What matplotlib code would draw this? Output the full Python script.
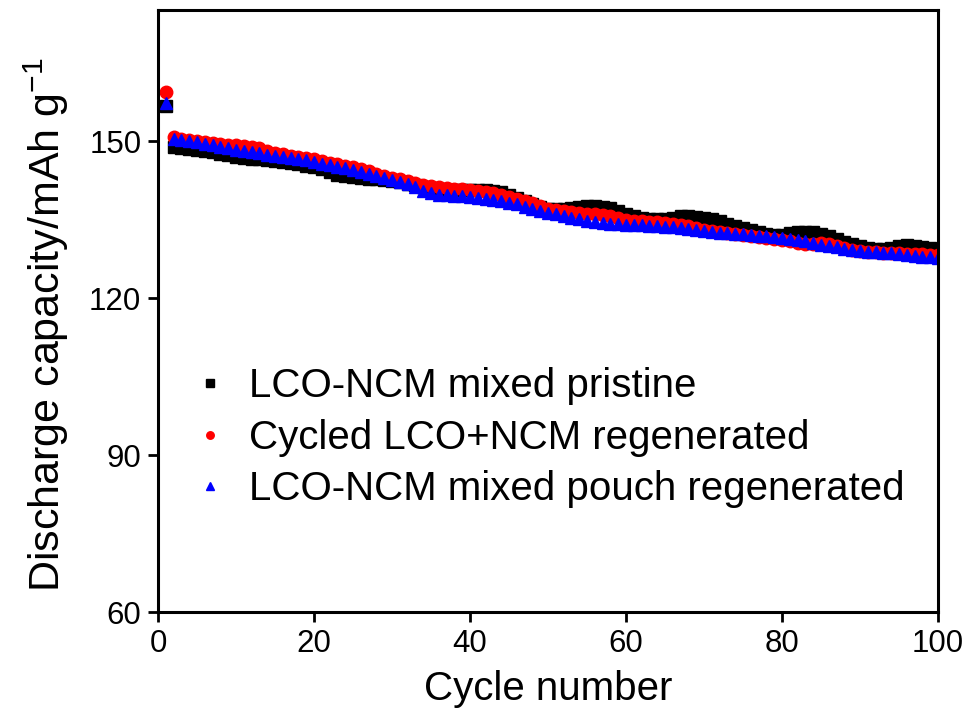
import matplotlib
matplotlib.use('Agg')
import matplotlib.pyplot as plt

plt.rcParams['font.family'] = ['Liberation Sans', 'DejaVu Sans']
plt.rcParams['mathtext.fontset'] = 'custom'
plt.rcParams['mathtext.rm'] = 'Liberation Sans'
plt.rcParams['mathtext.it'] = 'Liberation Sans'

cycles = list(range(1, 101))

pristine = [
    156.8,
    148.8, 148.6, 148.5, 148.3, 148.1, 147.9, 147.6, 147.3, 147.0,
    146.8, 146.6, 146.5, 146.3, 146.2, 146.0, 145.8, 145.6, 145.3, 145.0,
    144.6, 144.1, 143.6, 143.3, 143.1, 143.0, 142.8, 142.7, 142.5, 142.3,
    142.1, 141.9, 141.6, 141.3, 141.0, 140.8, 140.7, 140.7, 140.6, 140.6,
    140.7, 140.6, 140.5, 140.2, 139.8, 139.2, 138.6, 138.0, 137.5, 137.1,
    137.0, 137.1, 137.3, 137.5, 137.6, 137.6, 137.5, 137.3, 136.7, 136.1,
    135.6, 135.3, 135.2, 135.1, 135.1, 135.4, 135.6, 135.6, 135.5, 135.4,
    135.1, 134.7, 134.2, 133.8, 133.4, 133.0, 132.6, 132.3, 132.1, 132.1,
    132.4, 132.6, 132.7, 132.6, 132.3, 131.8, 131.3, 130.8, 130.4, 130.0,
    129.6, 129.3, 129.3, 129.6, 130.0, 130.1, 130.0, 129.8, 129.6, 129.4,
]

cycled_regen = [
    159.3,
    150.7, 150.5, 150.3, 150.0, 149.8, 149.6, 149.4, 149.3, 149.2,
    149.0, 148.9, 148.6, 148.2, 147.8, 147.5, 147.2, 147.0, 146.8, 146.5,
    146.2, 145.9, 145.6, 145.3, 145.0, 144.6, 144.2, 143.8, 143.4, 143.0,
    142.7, 142.4, 142.0, 141.7, 141.4, 141.2, 141.0, 140.9, 140.8, 140.7,
    140.5, 140.3, 140.0, 139.7, 139.4, 139.0, 138.6, 138.1, 137.6, 137.1,
    136.8, 136.6, 136.5, 136.3, 136.1, 136.0, 135.8, 135.6, 135.3, 135.0,
    134.8, 134.7, 134.6, 134.5, 134.4, 134.2, 134.0, 133.7, 133.4, 133.1,
    132.9, 132.7, 132.5, 132.2, 132.0, 131.8, 131.7, 131.5, 131.3, 131.2,
    131.0, 130.6, 130.4, 130.4, 130.5, 130.3, 129.9, 129.5, 129.2, 129.0,
    128.9, 128.8, 128.7, 128.7, 128.6, 128.5, 128.5, 128.4, 128.3, 128.2,
]

pouch_regen = [
    157.3,
    150.4, 150.2, 150.0, 149.8, 149.5, 149.2, 148.9, 148.6, 148.3,
    148.1, 147.9, 147.7, 147.4, 147.2, 147.0, 146.8, 146.5, 146.3, 146.0,
    145.7, 145.4, 145.1, 144.8, 144.5, 144.1, 143.7, 143.3, 143.0, 142.6,
    142.2, 141.8, 141.2, 140.5, 140.0, 139.8, 139.7, 139.6, 139.5, 139.3,
    139.1, 138.9, 138.7, 138.5, 138.2, 137.9, 137.5, 137.1, 136.7, 136.3,
    136.0, 135.7, 135.4, 135.1, 134.8, 134.6, 134.4, 134.2, 134.1, 134.0,
    134.0, 133.9, 133.8, 133.7, 133.6, 133.5, 133.4, 133.2, 133.0, 132.8,
    132.6, 132.5, 132.4, 132.3, 132.2, 132.0, 131.9, 131.8, 131.6, 131.5,
    131.3, 131.1, 130.9, 130.6, 130.2, 129.9, 129.7, 129.4, 129.2, 129.0,
    128.9, 128.8, 128.7, 128.6, 128.5, 128.3, 128.1, 127.9, 127.8, 127.6,
]

labels = ['LCO-NCM mixed pristine',
          'Cycled LCO+NCM regenerated',
          'LCO-NCM mixed pouch regenerated']

fig = plt.figure(figsize=(9.77, 7.18), dpi=100)
ax = fig.add_axes([0.1617, 0.1476, 0.7983, 0.838])

ax.plot(cycles, pristine, 's', color='black', markersize=8.5, label=labels[0])
ax.plot(cycles, cycled_regen, 'o', color='red', markersize=9, label=labels[1])
ax.plot(cycles, pouch_regen, '^', color='blue', markersize=9, label=labels[2])

ax.set_xlim(0, 100)
ax.set_ylim(60, 175)
ax.set_xticks([0, 20, 40, 60, 80, 100])
ax.set_yticks([60, 90, 120, 150])

for side in ['top', 'bottom', 'left', 'right']:
    ax.spines[side].set_linewidth(2.2)
ax.tick_params(direction='out', length=7, width=2, labelsize=22.5, pad=5)

ax.set_xlabel('Cycle number', fontsize=29, labelpad=8)
ax.set_ylabel('Discharge capacity/mAh g$^{\\mathregular{-1}}$', fontsize=31)
ax.yaxis.set_label_coords(-0.112, 0.477)

ax.legend(loc='upper left', bbox_to_anchor=(0.031, 0.434), frameon=False,
          fontsize=29, markerscale=0.6, handlelength=0.6, handletextpad=0.65,
          labelspacing=0.34, borderaxespad=0)

fig.savefig('out.png', dpi=100, facecolor='white')
